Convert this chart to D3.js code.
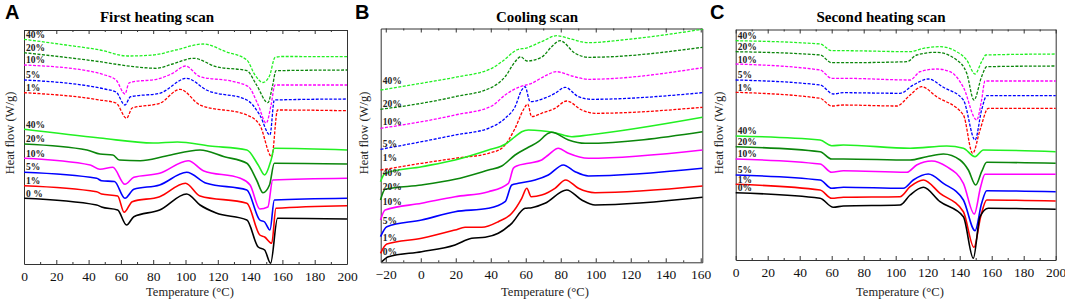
<!DOCTYPE html>
<html>
<head>
<meta charset="utf-8">
<script src="https://cdn.jsdelivr.net/npm/d3@7"></script>
<style>
  body { margin: 0; background: #fff; }
  svg { display: block; }
</style>
</head>
<body>
<div id="chart"></div>
<script>
// heat flow values are arbitrary units (curves are offset), temperatures in °C

// ---- A: first heating scan ----
var firstDash40 = [[0,224.7],[26,219],[47,214],[64,208],[80,209],[94,214],[111,220],[125,212.3],[138,204],[143,189],[148,181.5],[152,188],[155.5,206.7],[160,207.5],[200,207.3]];
var firstDash20 = [[0,211.3],[47,202.3],[68,197.3],[82,195.7],[92,200],[105,205.7],[119,197.3],[138,193.3],[144,179],[151,161.3],[154,179],[156,193.3],[200,194]];
var firstDash10 = [[0,199],[40,193],[50,189],[57,184],[62.5,170],[65,181],[68,182.3],[82,184.7],[92,190.7],[100,198],[109,187.3],[130,182.3],[139,177.3],[145,159],[150,141],[153,159],[155.4,179],[200,179]];
var firstDash5 = [[0,184],[40,178],[50,175],[57,172],[62.5,159],[66,167.3],[84,170.7],[100.7,185.7],[113,174],[138,164],[146,149],[152.3,129],[155,164],[200,165]];
var firstDash1 = [[0,171.3],[47,164],[57,161],[63.5,145.7],[67,156],[84,160.7],[96.6,174.7],[109,159],[138,149],[146,139],[153.4,107.3],[157,154],[200,153.3]];
var firstSolid40 = [[0,134.7],[47,126],[80,121],[95,122],[115,118],[138,114],[145,99],[149,89],[153,104],[155,115.7],[200,114]];
var firstSolid20 = [[0,120],[39,114],[47,110],[55,109],[59,104],[72,103.3],[88,108],[109,114],[124,107.3],[138,100.7],[144,84],[148,71.3],[152,79],[155,100.7],[200,100]];
var firstSolid10 = [[0,105.7],[41,99],[47,94.7],[55,96.7],[62.5,79.7],[68,86.7],[84,90.7],[101.7,103.3],[111,93.3],[134,85.7],[140,79],[146,55],[151,57],[154,84],[200,85.7]];
var firstSolid5 = [[0,91.7],[45,85.7],[48,83.3],[56,82.5],[62.5,65.7],[68,74.7],[84,79],[100.7,91.7],[113,80.7],[138,74],[146,44],[149,42],[152.3,34],[155,64],[200,65.7]];
var firstSolid1 = [[0,78.3],[45,72.3],[48,70],[58,68],[62,51.7],[67,62.3],[84,67.3],[100,80.7],[109,68],[138,60.7],[146,29],[149,27],[153.4,20.7],[156,55.7],[200,58.3]];
var firstSolid0 = [[0,65.7],[45,59],[48,57],[58,54],[63.5,39],[68,47.3],[84,54],[100.7,70],[109,59],[119,51],[138,44],[145,17],[149,14],[152.7,0.7],[157,45.7],[200,45]];

// ---- B: cooling scan ----
var coolDash40 = [[-23,172.3],[0.4,179],[19.6,185],[40.6,194],[46.3,200.6],[55.8,213],[59.6,214],[69,220.6],[77.7,226.6],[84.4,224],[95.8,219.6],[115,222.3],[161,233]];
var coolDash20 = [[-23,153],[0.5,159],[19.6,165.6],[40.6,175],[48.2,185.6],[53.9,200.6],[57.1,205.6],[60.6,201.3],[69,205],[74.8,215.6],[79.6,221.6],[88.2,209],[95.8,205],[161,215]];
var coolDash10 = [[-23,134],[0.5,140.6],[19.6,147.3],[40.6,156.3],[48.2,167.3],[55.8,175],[63.4,179],[71,186.3],[77.7,190.6],[86.3,186.3],[95.8,183],[161,194.6]];
var coolDash5 = [[-23,113],[0.5,120.6],[19.6,127.3],[38.7,134],[48.2,144],[53.9,155.6],[57.7,172.3],[59.6,175.6],[62.5,160.6],[69,163],[76.7,169],[82.5,175],[90.1,165.6],[97.7,163],[161,169.6]];
var coolDash1 = [[-23,92.3],[0.5,99],[19.6,104],[38.7,109],[46.3,114],[53.9,134],[58.6,152.3],[61.1,158.3],[63.4,145.6],[69,149],[76.7,154],[83.4,161.3],[92,152.3],[99.6,149],[161,155]];
var coolSolid40 = [[-23,80.6],[-20.4,89],[0.5,95.6],[19.6,102.3],[38.7,112.3],[48.2,118],[53.9,125.6],[57.7,130.6],[61.5,132.3],[76.7,129.6],[86.3,125.6],[95.8,127.3],[161,145]];
var coolSolid20 = [[-23,62.3],[-20.4,73],[0.5,77.3],[19.6,83],[38.7,92.3],[46.3,96.3],[53.9,107.3],[61.5,115],[67.2,120.6],[72.9,129],[74.8,130],[84.4,122.3],[93.9,119],[161,130.6]];
var coolSolid10 = [[-23,42.3],[-20.4,52.3],[0.5,59],[19.6,65.6],[38.7,70.6],[50.1,79],[52.9,94],[54.8,96.3],[61.5,99],[69.1,102.3],[72.9,107.3],[78.6,114],[84.4,109],[95.8,104],[161,112.3]];
var coolSolid5 = [[-23,25.6],[-19.4,35.6],[0.5,42.3],[19.6,50.6],[38.7,54],[48.2,60.6],[52,77.3],[55.8,79],[65.3,82.3],[72.9,87.3],[81.5,97.3],[88.2,90.6],[95.8,86.3],[161,94]];
var coolSolid1 = [[-23,9],[-19.4,18.3],[0.5,24],[19.6,32.3],[25.3,35],[34.9,35],[44.3,40.6],[52,49],[57.7,64],[60.6,74],[63.1,65.6],[69.1,67.3],[76.7,74],[82.8,82.3],[90.1,74],[99.6,69.6],[161,76.3]];
var coolSolid0 = [[-22.3,0.6],[-18.5,5.6],[0.5,10.6],[19.6,17.3],[29.1,24],[36.8,25],[44.3,29],[52,39],[59.6,54],[63.4,54.6],[71,59],[83.4,72.3],[92,62.3],[99.6,57.3],[161,65]];

// ---- C: second heating scan ----
var secondDash40 = [[0,219.3],[52.7,216],[60,209.3],[67.3,209.3],[109,208.3],[117.3,211.7],[127.7,213.3],[138.1,208.3],[144.4,200],[149.6,186],[153.7,198.3],[156.4,205],[200,206]];
var secondDash20 = [[0,208.3],[52.7,205],[60,197.3],[67.3,197.3],[107,198.3],[113.1,205],[125.6,207.7],[138.1,200],[144.4,186.7],[148.9,160],[153.7,183.3],[156.9,193.3],[200,194]];
var secondDash10 = [[0,196],[52.7,190],[60,181.7],[67.3,181.7],[109,180],[115.2,188.3],[125.6,191],[134,188.3],[142.3,172.7],[150.6,140],[153.7,160],[155.8,179],[200,179]];
var secondDash5 = [[0,180],[52.7,175],[61,166],[67.3,167.3],[102.7,166.7],[111,175],[120.4,181],[129.8,172.7],[142.3,160],[149.6,120],[153.7,150],[156.9,164.3],[200,164.3]];
var secondDash1 = [[0,167.7],[52.7,161.7],[60,154],[67.3,155],[100.6,154],[109,165],[116.2,173.3],[125.6,163.3],[142.3,145],[148.1,106.7],[152.7,130],[157.9,151.7],[200,151.7]];
var secondSolid40 = [[0,124],[52.7,120],[60,114.3],[67.3,115],[109,111.7],[131.9,114],[142.3,111.7],[149.6,103.3],[154.8,110],[200,108.3]];
var secondSolid20 = [[0,113.3],[52.7,108.3],[60,101],[67.3,101],[109,100],[119.4,103.3],[129.8,106],[140.2,100],[145.4,90],[150,75],[153.7,88.3],[156.9,97.7],[200,96.7]];
var secondSolid10 = [[0,101],[52.7,96],[60,87.7],[67.3,89.3],[107,87.7],[113.1,95],[122.5,99],[131.9,93.3],[142.3,76.7],[149.1,46],[153.1,73.3],[155.8,85.7],[200,85.7]];
var secondSolid5 = [[0,85],[52.7,80],[60,71.7],[67.3,72.7],[104.8,71.7],[111,80],[120.4,86],[129.8,76.7],[142.3,60],[149.6,29.3],[153.7,56.7],[156.9,69.3],[200,68.3]];
var secondSolid1 = [[0,75.7],[52.7,70],[60,61.7],[67.3,62.7],[102.7,63.3],[109,73.3],[117.3,80],[127.7,66.7],[142.3,48.3],[148.9,12.7],[153.1,43.3],[156.9,60],[200,59]];
var secondSolid0 = [[0,67.3],[52.7,61.7],[61,52.7],[67.3,54],[102.7,55],[109,65],[117.3,72.7],[127.7,58.3],[142.3,43.3],[148.5,1.7],[152.7,43.3],[157.9,51.7],[200,50.7]];

var contents = ["40%", "20%", "10%", "5%", "1%", "0%"];
var xTicksHeat = [0, 20, 40, 60, 80, 100, 120, 140, 160, 180, 200];
var xTicksCool = [-20, 0, 20, 40, 60, 80, 100, 120, 140, 160];

var colorOf = d3.scaleOrdinal()
  .domain(contents)
  .range(["#22f022", "#0b860b", "#ff00ff", "#0000ff", "#ff0000", "#000000"]);

function seriesList(d40, d20, d10, d5, d1, s40, s20, s10, s5, s1, s0, zeroLabel) {
  return [
    { key: "40%", label: "40%", dashed: true, values: d40 },
    { key: "20%", label: "20%", dashed: true, values: d20 },
    { key: "10%", label: "10%", dashed: true, values: d10 },
    { key: "5%", label: "5%", dashed: true, values: d5 },
    { key: "1%", label: "1%", dashed: true, values: d1 },
    { key: "40%", label: "40%", dashed: false, values: s40 },
    { key: "20%", label: "20%", dashed: false, values: s20 },
    { key: "10%", label: "10%", dashed: false, values: s10 },
    { key: "5%", label: "5%", dashed: false, values: s5 },
    { key: "1%", label: "1%", dashed: false, values: s1 },
    { key: "0%", label: zeroLabel, dashed: false, values: s0 }
  ];
}

// layout of each panel (label offsets are pixel nudges from the curve at labelT)
var panels = [
  {
    letter: "A", letterX: 5, title: "First heating scan", titleX: 157, yLabelX: 14, xLabelX: 190,
    left: 24, right: 347, top: 30, bottom: 264, domain: [0, 200], ticks: xTicksHeat,
    labelT: 5, labelDy: [-2.5, -2.5, -2.5, -2.5, -2.5, -2.5, -2.5, -2.5, -2.5, -2.5, -2.5],
    series: seriesList(firstDash40, firstDash20, firstDash10, firstDash5, firstDash1,
      firstSolid40, firstSolid20, firstSolid10, firstSolid5, firstSolid1, firstSolid0, "0 %")
  },
  {
    letter: "B", letterX: 355, title: "Cooling scan", titleX: 537, yLabelX: 368, xLabelX: 545,
    left: 380.7, right: 702.3, top: 28.5, bottom: 262.3, domain: [-22.9, 160.9], ticks: xTicksCool,
    labelT: -20, labelDy: [-5.5, -2, -2, -1, -8.5, 3, 1, -4.5, -4, -4.5, -3.5],
    series: seriesList(coolDash40, coolDash20, coolDash10, coolDash5, coolDash1,
      coolSolid40, coolSolid20, coolSolid10, coolSolid5, coolSolid1, coolSolid0, "0%")
  },
  {
    letter: "C", letterX: 710, title: "Second heating scan", titleX: 881, yLabelX: 723, xLabelX: 900,
    left: 735.7, right: 1055.7, top: 29.5, bottom: 260, domain: [0, 200], ticks: xTicksHeat,
    labelT: 5, labelDy: [-2, -2, -2, -2, -2, -2, -2, -2, -2, -2, -2],
    series: seriesList(secondDash40, secondDash20, secondDash10, secondDash5, secondDash1,
      secondSolid40, secondSolid20, secondSolid10, secondSolid5, secondSolid1, secondSolid0, "0%")
  }
];

var svg = d3.select("#chart")
  .append("svg")
  .attr("width", 1065)
  .attr("height", 302);

var serif = "'Liberation Serif', 'Times New Roman', serif";

panels.forEach(function (p) {
  var x = d3.scaleLinear().domain(p.domain).range([p.left, p.right]);
  var y = d3.scaleLinear().domain([0, p.bottom - p.top]).range([p.bottom, p.top]);

  var g = svg.append("g");

  // minor ticks (every 10 degrees)
  var minor = d3.range(p.ticks[0] - 10, p.domain[1], 10).filter(function (t) {
    return t > p.domain[0] && p.ticks.indexOf(t) < 0;
  });

  g.append("g")
    .attr("transform", "translate(0," + p.bottom + ")")
    .call(d3.axisBottom(x).tickValues(minor).tickSize(-2).tickFormat(""))
    .call(function (s) { s.select(".domain").remove(); });
  g.append("g")
    .attr("transform", "translate(0," + p.top + ")")
    .call(d3.axisTop(x).tickValues(minor).tickSize(-2).tickFormat(""))
    .call(function (s) { s.select(".domain").remove(); });

  // major ticks + frame
  var bottomAxis = g.append("g")
    .attr("transform", "translate(0," + p.bottom + ")")
    .call(d3.axisBottom(x).tickValues(p.ticks).tickSize(-4).tickSizeOuter(0).tickPadding(7));
  bottomAxis.selectAll("text")
    .attr("font-family", serif)
    .attr("font-size", 13.5)
    .attr("fill", "#111");

  g.append("g")
    .attr("transform", "translate(0," + p.top + ")")
    .call(d3.axisTop(x).tickValues(p.ticks).tickSize(-4).tickSizeOuter(0).tickFormat(""));
  g.append("g")
    .attr("transform", "translate(" + p.left + ",0)")
    .call(d3.axisLeft(y).tickValues([]).tickSizeOuter(0));
  g.append("g")
    .attr("transform", "translate(" + p.right + ",0)")
    .call(d3.axisRight(y).tickValues([]).tickSizeOuter(0));

  g.selectAll(".domain, .tick line").attr("stroke", "#333").attr("stroke-width", 1);

  // curves
  var line = d3.line()
    .x(function (d) { return x(d[0]); })
    .y(function (d) { return y(d[1]); })
    .curve(d3.curveMonotoneX);

  g.append("g")
    .selectAll("path")
    .data(p.series)
    .join("path")
    .attr("d", function (s) { return line(s.values); })
    .attr("fill", "none")
    .attr("stroke", function (s) { return colorOf(s.key); })
    .attr("stroke-width", function (s) { return s.dashed ? 1.3 : 1.6; })
    .attr("stroke-dasharray", function (s) { return s.dashed ? "3,1.5" : null; });

  // curve labels, sitting just above each curve near the left edge
  function valueAt(vals, t) {
    var i = d3.bisector(function (d) { return d[0]; }).left(vals, t);
    if (i <= 0) return vals[0][1];
    if (i >= vals.length) return vals[vals.length - 1][1];
    var a = vals[i - 1], b = vals[i];
    return a[1] + (b[1] - a[1]) * (t - a[0]) / (b[0] - a[0]);
  }

  g.append("g")
    .selectAll("text")
    .data(p.series)
    .join("text")
    .attr("x", p.left + 2)
    .attr("y", function (s, i) { return y(valueAt(s.values, p.labelT)) + p.labelDy[i]; })
    .attr("font-family", serif)
    .attr("font-weight", "bold")
    .attr("font-size", 9.5)
    .attr("fill", "#222")
    .text(function (s) { return s.label; });

  // titles
  svg.append("text")
    .attr("x", p.letterX)
    .attr("y", 18.5)
    .attr("font-family", "'Liberation Sans', Arial, sans-serif")
    .attr("font-weight", "bold")
    .attr("font-size", 20)
    .text(p.letter);

  svg.append("text")
    .attr("x", p.titleX)
    .attr("y", 21.5)
    .attr("text-anchor", "middle")
    .attr("font-family", serif)
    .attr("font-weight", "bold")
    .attr("font-size", 15)
    .text(p.title);

  svg.append("text")
    .attr("transform", "translate(" + p.yLabelX + ",133) rotate(-90)")
    .attr("text-anchor", "middle")
    .attr("font-family", serif)
    .attr("font-size", 12.5)
    .attr("fill", "#222")
    .text("Heat flow (W/g)");

  svg.append("text")
    .attr("x", p.xLabelX)
    .attr("y", 295.5)
    .attr("text-anchor", "middle")
    .attr("font-family", serif)
    .attr("font-size", 12.5)
    .attr("fill", "#222")
    .text("Temperature (°C)");
});
</script>
</body>
</html>
